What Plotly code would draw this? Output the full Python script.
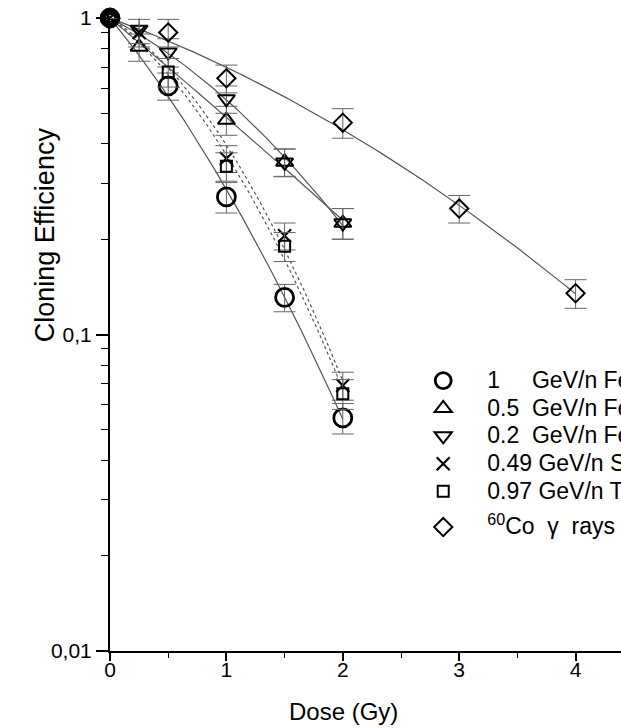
import numpy as np
import plotly.graph_objects as go

# ---------------- data ----------------
NB = "\u00a0"
labels = ["1" + NB * 5 + "GeV/n Fe", "0.5" + NB * 2 + "GeV/n Fe",
          "0.2" + NB * 2 + "GeV/n Fe", "0.49 GeV/n Si", "0.97 GeV/n Ti",
          "<sup>60</sup>Co" + NB * 2 + "γ" + NB * 2 + "rays"]
groups = ["ions", "ions", "ions", "ions", "ions", "gamma"]

dose_fe1 = [0, 0.5, 1, 1.5, 2]
se_fe1 = [1.0, 0.61, 0.272, 0.131, 0.0545]
err_fe1 = [0.0, 0.06, 0.03, 0.013, 0.006]

dose_fe05 = [0, 0.25, 1, 1.5, 2]
se_fe05 = [1.0, 0.81, 0.476, 0.351, 0.225]
err_fe05 = [0.0, 0.08, 0.05, 0.035, 0.025]

dose_fe02 = [0, 0.25, 0.5, 1, 1.5, 2]
se_fe02 = [1.0, 0.92, 0.78, 0.555, 0.35, 0.225]
err_fe02 = [0.0, 0.09, 0.08, 0.055, 0.035, 0.025]

dose_si = [0, 0.25, 1, 1.5, 2]
se_si = [1.0, 0.90, 0.36, 0.205, 0.069]
err_si = [0.0, 0.09, 0.035, 0.02, 0.007]

dose_ti = [0, 0.5, 1, 1.5, 2]
se_ti = [1.0, 0.675, 0.34, 0.19, 0.065]
err_ti = [0.0, 0.07, 0.035, 0.02, 0.007]

dose_co = [0, 0.5, 1, 2, 3, 4]
se_co = [1.0, 0.90, 0.645, 0.467, 0.25, 0.135]
err_co = [0.0, 0.09, 0.065, 0.05, 0.025, 0.014]

x_ticks = [0, 1, 2, 3, 4]
y_tickvals = [0.01, 0.1, 1]
y_ticktext = ["0,01", "0,1", "1"]

series = [
    (dose_fe1, se_fe1, err_fe1, "circle-open", 18, 2.8, "solid"),
    (dose_fe05, se_fe05, err_fe05, "triangle-up-open", 15, 2.0, "solid"),
    (dose_fe02, se_fe02, err_fe02, "triangle-down-open", 15, 2.0, "solid"),
    (dose_si, se_si, err_si, "x-thin-open", 13, 2.2, "dot"),
    (dose_ti, se_ti, err_ti, "square-open", 11, 2.0, "dot"),
    (dose_co, se_co, err_co, "diamond-open", 14, 2.0, "solid"),
]

FONT = "Liberation Sans, Arial, sans-serif"
fig = go.Figure()

# linear-quadratic least-squares fits through origin (derived from data)
for d, s, e, sym, sz, lw, dash in series:
    d = np.array(d, float)
    s = np.array(s, float)
    A = np.vstack([d, d ** 2]).T
    coef, *_ = np.linalg.lstsq(A, np.log(s), rcond=None)
    xx = np.linspace(0, d.max(), 120)
    yy = np.exp(coef[0] * xx + coef[1] * xx ** 2)
    fig.add_trace(go.Scatter(
        x=xx, y=yy, mode="lines", showlegend=False, hoverinfo="skip",
        line=dict(color="#555555", width=1.2, dash=dash)))

for (d, s, e, sym, sz, lw, dash), lab, grp in zip(series, labels, groups):
    fig.add_trace(go.Scatter(
        x=d, y=s, mode="markers", cliponaxis=False, legendgroup=grp,
        name='<span style="font-size:23px">' + lab + "</span>",
        marker=dict(symbol=sym, size=sz, color="black",
                    line=dict(color="black", width=lw)),
        error_y=dict(type="data", array=e, visible=True,
                     color="#666666", thickness=1, width=11)))

fig.add_annotation(text="Cloning Efficiency", textangle=-90,
                   xref="paper", yref="paper", x=-0.127, y=0.657,
                   xanchor="center", yanchor="middle",
                   showarrow=False, font=dict(size=27, color="black", family=FONT))
fig.add_annotation(text="Dose (Gy)", xref="paper", yref="paper",
                   x=0.456, y=-0.095, xanchor="center", yanchor="middle",
                   showarrow=False,
                   font=dict(size=24, color="black", family=FONT))

fig.update_layout(
    width=621, height=728,
    margin=dict(l=110, r=0, t=18, b=77, autoexpand=False),
    paper_bgcolor="white", plot_bgcolor="white",
    font=dict(family=FONT, color="black", size=21),
    legend=dict(x=0.566, y=0.457, xanchor="left", yanchor="top",
                font=dict(size=19, family=FONT, color="black"),
                bgcolor="rgba(0,0,0,0)", itemwidth=78,
                itemsizing="trace", traceorder="grouped",
                tracegroupgap=8),
    xaxis=dict(range=[0, 4.39], tickvals=x_ticks, ticks="outside",
               ticklen=8, tickwidth=1.5, tickcolor="black",
               ticklabelstandoff=-9,
               showline=True, linecolor="black", linewidth=2,
               showgrid=False, zeroline=False,
               tickfont=dict(size=21),
               minor=dict(dtick=0.5, ticks="outside", ticklen=5,
                          tickwidth=1.2, tickcolor="black", showgrid=False)),
    yaxis=dict(type="log", range=[-2, 0], tickvals=y_tickvals,
               ticktext=y_ticktext, ticks="outside", ticklen=12,
               tickwidth=1.5, tickcolor="black",
               showline=True, linecolor="black", linewidth=2,
               showgrid=False, zeroline=False, tickfont=dict(size=21),
               minor=dict(dtick="D1", ticks="outside", ticklen=7,
                          tickwidth=1.2, tickcolor="black", showgrid=False)),
)

fig.write_html("out.html")
